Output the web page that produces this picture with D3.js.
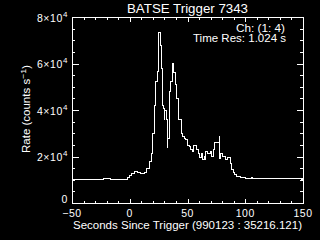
<!DOCTYPE html>
<html>
<head>
<meta charset="utf-8">
<script src="https://cdn.jsdelivr.net/npm/d3@7"></script>
<style>
  html, body { margin: 0; padding: 0; background: #000; }
  svg { display: block; }
  text { fill: #fff; font-family: "Liberation Sans", "DejaVu Sans", sans-serif; }
</style>
</head>
<body>
<div id="chart"></div>
<script>
// light curve: step start time (s) and rate (counts/s)
const stepTimes = [-50, -23, -17, -2, 0, 1.9, 3.7, 7.1, 8.9, 13.2, 14.1, 14.9, 16.7, 18.4, 19.3, 20.1,
    21.0, 21.9, 23.6, 24.5, 26.2, 27.1, 28.0, 28.8, 29.7, 30.5, 31.4, 32.3, 33.1, 34.0, 34.8, 35.7,
    36.6, 38.3, 39.2, 40.0, 40.9, 41.8, 42.6, 44.4, 45.2, 46.1, 47.8, 48.7, 49.6, 51.3, 52.2, 53.9,
    54.8, 55.6, 57.4, 59.1, 60.8, 61.7, 62.6, 63.4, 64.3, 65.2, 66.0, 67.7, 70.3, 71.2, 72.9, 73.8,
    77.3, 78.1, 79.0, 80.7, 82.5, 84.2, 86.8, 87.7, 88.5, 89.4, 90.3, 92.0, 93.7, 95.5, 97.2, 100.6,
    105.8, 106.7, 118.0, 118.9, 129.2, 132.7, 148.3, 149.2];
const stepRates = [10200, 10600, 10200, 10900, 11700, 12600, 13500, 13000, 12500, 13000, 13700, 15000, 17800, 21400, 25700, 30000,
    42100, 52200, 56500, 73400, 67900, 57700, 42100, 40500, 35700, 40000, 35700, 23700, 27800, 35700, 47900, 52200,
    60100, 56300, 52200, 50800, 45100, 44300, 35700, 32900, 29900, 28500, 27800, 27100, 24900, 24200, 22800, 22100,
    24200, 24900, 22800, 21400, 19400, 21400, 19900, 18600, 19900, 18600, 22100, 21400, 22100, 19900, 22800, 26100,
    28800, 19200, 21400, 19900, 18500, 19500, 17100, 15600, 14200, 13000, 12400, 11600, 11300, 11100, 10900, 10600,
    10800, 10600, 10400, 10600, 10400, 10600, 10300, 10600];
const tEnd = 150;

const xTicks = [-50, 0, 50, 100, 150];
const xTickLabels = ["\u221250", "0", "50", "100", "150"];
const yTicks = [0, 20000, 40000, 60000, 80000];
const yTickMantissa = ["0", "2\u00d710", "4\u00d710", "6\u00d710", "8\u00d710"];
const yTickExponent = ["", "4", "4", "4", "4"];

const title = "BATSE Trigger 7343";
const xTitle = "Seconds Since Trigger (990123 : 35216.121)";
const channelText = "Ch: (1: 4)";
const resText = "Time Res: 1.024 s";

const W = 320, H = 240;
const plot = { left: 72, right: 303, top: 17, bottom: 203 };

const svg = d3.select('#chart').append('svg')
    .attr('width', W)
    .attr('height', H);

svg.append('rect').attr('width', W).attr('height', H).attr('fill', '#000');

const x = d3.scaleLinear().domain([-50, 150]).range([plot.left, plot.right]);
const y = d3.scaleLinear().domain([0, 80000]).range([plot.bottom, plot.top]);

const xMinor = d3.range(-50, 151, 10).filter(v => !xTicks.includes(v));
const yMinor = d3.range(0, 80001, 5000).filter(v => !yTicks.includes(v));

function styleAxis(g) {
    g.selectAll('path, line').attr('stroke', '#fff').attr('shape-rendering', 'crispEdges');
    g.selectAll('text').remove();
}

// frame axes, IDL style with mirrored ticks
svg.append('g').attr('transform', `translate(0,${plot.bottom})`)
    .call(d3.axisTop(x).tickValues(xTicks).tickSize(4.5).tickSizeOuter(0)).call(styleAxis);
svg.append('g').attr('transform', `translate(0,${plot.bottom})`)
    .call(d3.axisTop(x).tickValues(xMinor).tickSize(2.5).tickSizeOuter(0)).call(styleAxis);
svg.append('g').attr('transform', `translate(0,${plot.top})`)
    .call(d3.axisBottom(x).tickValues(xTicks).tickSize(4.5).tickSizeOuter(0)).call(styleAxis);
svg.append('g').attr('transform', `translate(0,${plot.top})`)
    .call(d3.axisBottom(x).tickValues(xMinor).tickSize(2.5).tickSizeOuter(0)).call(styleAxis);

svg.append('g').attr('transform', `translate(${plot.left},0)`)
    .call(d3.axisRight(y).tickValues(yTicks).tickSize(6.5).tickSizeOuter(0)).call(styleAxis);
svg.append('g').attr('transform', `translate(${plot.left},0)`)
    .call(d3.axisRight(y).tickValues(yMinor).tickSize(3.3).tickSizeOuter(0)).call(styleAxis);
svg.append('g').attr('transform', `translate(${plot.right},0)`)
    .call(d3.axisLeft(y).tickValues(yTicks).tickSize(6.5).tickSizeOuter(0)).call(styleAxis);
svg.append('g').attr('transform', `translate(${plot.right},0)`)
    .call(d3.axisLeft(y).tickValues(yMinor).tickSize(3.3).tickSizeOuter(0)).call(styleAxis);

// tick labels
svg.append('g').selectAll('text')
    .data(xTicks)
    .join('text')
    .attr('x', d => x(d))
    .attr('y', 217)
    .attr('text-anchor', 'middle')
    .attr('font-size', 10.5)
    .attr('letter-spacing', 0.5)
    .text((d, i) => xTickLabels[i]);

const yl = svg.append('g').selectAll('text')
    .data(yTicks)
    .join('text')
    .attr('x', 68)
    .attr('y', (d, i) => yTickExponent[i] ? y(d) + 4.5 : y(d))
    .attr('text-anchor', 'end')
    .attr('font-size', 10.5)
    .attr('letter-spacing', 0.6);
yl.append('tspan').text((d, i) => yTickMantissa[i]);
yl.append('tspan')
    .attr('dy', -5)
    .attr('font-size', 8)
    .text((d, i) => yTickExponent[i]);

// light curve
const pts = stepTimes.map((t, i) => ({ t: t, r: stepRates[i] }));
pts.push({ t: tEnd, r: stepRates[stepRates.length - 1] });

const line = d3.line()
    .x(d => x(d.t))
    .y(d => y(d.r))
    .curve(d3.curveStepAfter);

svg.append('path')
    .datum(pts)
    .attr('d', line)
    .attr('fill', 'none')
    .attr('stroke', '#fff')
    .attr('stroke-width', 1)
    .attr('shape-rendering', 'crispEdges');

// titles
svg.append('text')
    .attr('x', (plot.left + plot.right) / 2)
    .attr('y', 12.5)
    .attr('text-anchor', 'middle')
    .attr('font-size', 12.5)
    .attr('textLength', 121)
    .attr('lengthAdjust', 'spacingAndGlyphs')
    .text(title);

svg.append('text')
    .attr('x', 73)
    .attr('y', 229)
    .attr('font-size', 10)
    .attr('textLength', 229)
    .attr('lengthAdjust', 'spacingAndGlyphs')
    .text(xTitle);

const yt = svg.append('text')
    .attr('transform', 'translate(30,153) rotate(-90)')
    .attr('font-size', 10.5)
    .attr('textLength', 88)
    .attr('lengthAdjust', 'spacingAndGlyphs');
yt.append('tspan').text('Rate (counts s');
yt.append('tspan').attr('dy', -4).attr('font-size', 8).text('\u22121');
yt.append('tspan').attr('dy', 4).text(')');

svg.append('text')
    .attr('x', 236)
    .attr('y', 31.7)
    .attr('font-size', 10)
    .attr('textLength', 49)
    .attr('lengthAdjust', 'spacingAndGlyphs')
    .text(channelText);

svg.append('text')
    .attr('x', 193)
    .attr('y', 41.7)
    .attr('font-size', 10)
    .attr('textLength', 93)
    .attr('lengthAdjust', 'spacingAndGlyphs')
    .text(resText);
</script>
</body>
</html>
